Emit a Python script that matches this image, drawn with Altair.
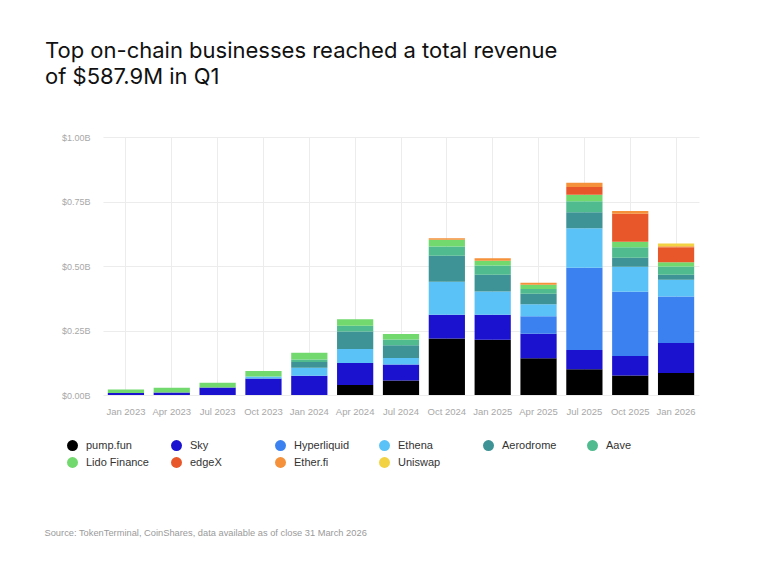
import altair as alt
import pandas as pd

periods = ["Jan 2023", "Apr 2023", "Jul 2023", "Oct 2023", "Jan 2024", "Apr 2024",
           "Jul 2024", "Oct 2024", "Jan 2025", "Apr 2025", "Jul 2025", "Oct 2025", "Jan 2026"]

series_names = ["pump.fun", "Sky", "Hyperliquid", "Ethena", "Aerodrome", "Aave",
                "Lido Finance", "edgeX", "Ether.fi", "Uniswap"]
series_colors = ["#000000", "#1b12cf", "#3b82f0", "#5bc2f7", "#3d9395", "#4fbb8e",
                 "#72d96e", "#e8572a", "#f4913a", "#f2d242"]

# revenue in $ billions, per quarter
pump_fun     = [0, 0, 0, 0, 0, 0.039, 0.056, 0.219, 0.214, 0.142, 0.100, 0.076, 0.085]
sky          = [0.008, 0.010, 0.029, 0.064, 0.075, 0.085, 0.062, 0.092, 0.097, 0.095, 0.074, 0.075, 0.117]
hyperliquid  = [0, 0, 0, 0, 0, 0, 0, 0, 0, 0.068, 0.319, 0.249, 0.180]
ethena       = [0, 0, 0, 0.008, 0.031, 0.054, 0.025, 0.128, 0.090, 0.047, 0.153, 0.097, 0.065]
aerodrome    = [0, 0, 0, 0, 0.022, 0.068, 0.050, 0.101, 0.065, 0.040, 0.062, 0.035, 0.019]
aave         = [0, 0, 0, 0, 0.010, 0.022, 0.022, 0.036, 0.036, 0.019, 0.043, 0.041, 0.032]
lido_finance = [0.013, 0.018, 0.018, 0.021, 0.026, 0.026, 0.021, 0.026, 0.018, 0.016, 0.025, 0.021, 0.017]
edgex        = [0, 0, 0, 0, 0, 0, 0, 0, 0, 0, 0.030, 0.109, 0.058]
ether_fi     = [0, 0, 0, 0, 0, 0, 0, 0.006, 0.010, 0.008, 0.017, 0.010, 0.004]
uniswap      = [0, 0, 0, 0, 0, 0, 0, 0, 0, 0, 0, 0, 0.010]

series_values = [pump_fun, sky, hyperliquid, ethena, aerodrome, aave,
                 lido_finance, edgex, ether_fi, uniswap]

title_lines = ["Top on-chain businesses reached a total revenue", "of $587.9M in Q1"]
source_text = "Source: TokenTerminal, CoinShares, data available as of close 31 March 2026"
y_ticks = [0, 0.25, 0.5, 0.75, 1.0]

rows = []
for order, (name, vals) in enumerate(zip(series_names, series_values)):
    for p, v in zip(periods, vals):
        if v > 0:
            rows.append({"period": p, "protocol": name, "revenue": v, "order": order})
df = pd.DataFrame(rows)

label_font = "Liberation Sans"

chart = alt.Chart(df).mark_bar().encode(
    x=alt.X(
        "period:N", sort=periods,
        scale=alt.Scale(paddingInner=0.21, paddingOuter=0.105),
        axis=alt.Axis(
            title=source_text, titleX=-59, titleY=137, titleAlign="left",
            titleBaseline="middle", titleFontSize=9.3, titleFontWeight="normal",
            titleColor="#9a9a9a", titleFont=label_font,
            labelAngle=0, labelPadding=11, labelFontSize=9.5, labelColor="#a8a8a8",
            labelFont=label_font, domain=False, ticks=False, grid=True,
            gridColor="#ececec", bandPosition=0.5,
        ),
    ),
    y=alt.Y(
        "revenue:Q", stack="zero",
        scale=alt.Scale(domain=[0, 1]),
        axis=alt.Axis(
            values=y_ticks, labelExpr="'$' + format(datum.value, '.2f') + 'B'",
            title=None, domain=False, ticks=False, labelPadding=13,
            labelFontSize=9, labelColor="#a8a8a8", labelFont=label_font,
            gridColor="#ececec",
        ),
    ),
    color=alt.Color(
        "protocol:N",
        scale=alt.Scale(domain=series_names, range=series_colors),
        legend=alt.Legend(
            title=None, orient="none", legendX=-36, legendY=303, columns=6,
            direction="horizontal", symbolType="circle", symbolSize=120,
            symbolStrokeWidth=0, labelFontSize=11, labelFont=label_font,
            labelColor="#333333", gridAlign="all", columnPadding=22,
            rowPadding=5, labelOffset=8, padding=0,
        ),
    ),
    order=alt.Order("order:Q", sort="ascending"),
).properties(
    width=596, height=258,
    title=alt.TitleParams(
        text=title_lines, anchor="start", frame="group", dx=-58,
        fontSize=22, font="Inter", fontWeight=400, color="#111111",
        lineHeight=26, offset=44,
    ),
    autosize=alt.AutoSizeParams(type="none"),
    padding={"left": 95, "top": 129, "right": 55, "bottom": 169},
    background="white",
).configure_view(strokeWidth=0)

chart.save("out.html", embed_options={"renderer": "svg", "actions": False})
